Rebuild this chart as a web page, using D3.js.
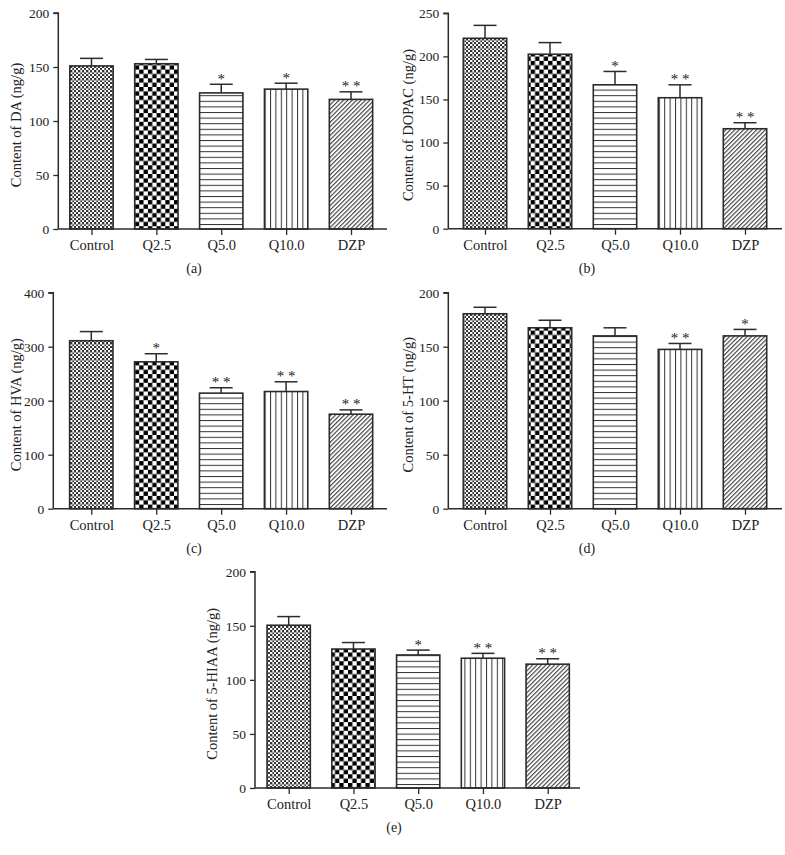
<!DOCTYPE html>
<html><head><meta charset="utf-8">
<script src="https://cdn.jsdelivr.net/npm/d3@7"></script>
<style>
body{margin:0;background:#fff;}
svg{display:block;}
text{font-family:"Liberation Serif","DejaVu Serif",serif;fill:#222;}
</style></head>
<body><svg id="c" width="785" height="855"></svg>
<script>
const categories = ["Control","Q2.5","Q5.0","Q10.0","DZP"];
const patterns = ["fineCheck","bigCheck","hLines","vLines","diag"];

const daMean = [151,153,126,129.5,120];
const daErr  = [158,157,134,135,127];
const daSig  = ["","","*","*","* *"];

const dopacMean = [221,202.5,167,152,116];
const dopacErr  = [236,216,182.5,167,123];
const dopacSig  = ["","","*","* *","* *"];

const hvaMean = [311,272,214,217,175];
const hvaErr  = [328,287,224,235,183];
const hvaSig  = ["","*","* *","* *","* *"];

const htMean = [180.5,167.5,160,147.5,160];
const htErr  = [186.5,174.5,167.5,153,166];
const htSig  = ["","","","* *","*"];

const hiaaMean = [150.5,128.5,123,120,114.5];
const hiaaErr  = [158.5,134.5,127.5,124.5,119.5];
const hiaaSig  = ["","","*","* *","* *"];

const yTicksA = [0,50,100,150,200];
const yTicksB = [0,50,100,150,200,250];
const yTicksC = [0,100,200,300,400];
const yTicksD = [0,50,100,150,200];
const yTicksE = [0,50,100,150,200];

const svg = d3.select("#c");
const defs = svg.append("defs");

// fine checkerboard with grey grid (Control)
{
  const p = defs.append("pattern").attr("id","fineCheck").attr("patternUnits","userSpaceOnUse")
    .attr("width",8).attr("height",8);
  p.append("rect").attr("width",8).attr("height",8).attr("fill","#fff");
  for (let i=0;i<4;i++) for (let j=0;j<4;j++) if ((i+j)%2===0)
    p.append("rect").attr("x",i*2).attr("y",j*2).attr("width",2).attr("height",2).attr("fill","#333");
  p.append("rect").attr("x",0).attr("y",0).attr("width",8).attr("height",0.8).attr("fill","#999");
  p.append("rect").attr("x",0).attr("y",0).attr("width",0.8).attr("height",8).attr("fill","#999");
}
// big checkerboard (Q2.5)
{
  const s = 4.35;
  const p = defs.append("pattern").attr("id","bigCheck").attr("patternUnits","userSpaceOnUse")
    .attr("width",2*s).attr("height",2*s);
  p.append("rect").attr("width",2*s).attr("height",2*s).attr("fill","#fff");
  p.append("rect").attr("x",0).attr("y",0).attr("width",s).attr("height",s).attr("fill","#000");
  p.append("rect").attr("x",s).attr("y",s).attr("width",s).attr("height",s).attr("fill","#000");
}
// horizontal lines (Q5.0)
{
  const p = defs.append("pattern").attr("id","hLines").attr("patternUnits","userSpaceOnUse")
    .attr("width",10).attr("height",5.6);
  p.append("rect").attr("width",10).attr("height",5.6).attr("fill","#fff");
  p.append("line").attr("x1",0).attr("x2",10).attr("y1",0.5).attr("y2",0.5).attr("stroke","#333").attr("stroke-width",1);
}
// vertical lines (Q10.0)
{
  const p = defs.append("pattern").attr("id","vLines").attr("patternUnits","userSpaceOnUse")
    .attr("width",5.4).attr("height",10);
  p.append("rect").attr("width",5.4).attr("height",10).attr("fill","#fff");
  p.append("line").attr("y1",0).attr("y2",10).attr("x1",0.5).attr("x2",0.5).attr("stroke","#333").attr("stroke-width",1);
}
// diagonal lines (DZP)
{
  const p = defs.append("pattern").attr("id","diag").attr("patternUnits","userSpaceOnUse")
    .attr("width",3.1).attr("height",10).attr("patternTransform","rotate(45)");
  p.append("rect").attr("width",3.1).attr("height",10).attr("fill","#fff");
  p.append("line").attr("y1",0).attr("y2",10).attr("x1",0.6).attr("x2",0.6).attr("stroke","#333").attr("stroke-width",1.05);
}

function panel(o) {
  const g = svg.append("g");
  const y = d3.scaleLinear().domain([0, o.max]).range([o.yBottom, o.yTop]);
  const x = d3.scalePoint().domain(categories).range([o.c0, o.c1]);
  const bw = x.step() * 0.668;

  g.selectAll("rect.bar").data(categories).join("rect")
    .attr("x", d => x(d) - bw/2)
    .attr("y", (d,i) => y(o.mean[i]))
    .attr("width", bw)
    .attr("height", (d,i) => y(0) - y(o.mean[i]))
    .attr("fill", (d,i) => `url(#${patterns[i]})`)
    .attr("stroke", "#2b2b2b").attr("stroke-width", 1.6);

  const eb = g.selectAll("g.eb").data(categories).join("g");
  eb.append("line")
    .attr("x1", d => x(d)).attr("x2", d => x(d))
    .attr("y1", (d,i) => y(o.mean[i])).attr("y2", (d,i) => y(o.err[i]))
    .attr("stroke", "#2b2b2b").attr("stroke-width", 1.5);
  eb.append("line")
    .attr("x1", d => x(d) - 11.5).attr("x2", d => x(d) + 11.5)
    .attr("y1", (d,i) => y(o.err[i])).attr("y2", (d,i) => y(o.err[i]))
    .attr("stroke", "#2b2b2b").attr("stroke-width", 1.5);

  g.selectAll("text.sig").data(categories).join("text")
    .attr("x", d => x(d)).attr("y", (d,i) => y(o.err[i]) - 0.5)
    .attr("text-anchor", "middle").attr("font-size", 15).attr("fill", "#333")
    .text((d,i) => o.sig[i]);

  const ya = g.append("g").attr("transform", `translate(${o.axisX},0)`)
    .call(d3.axisLeft(y).tickValues(o.ticks).tickSize(5).tickPadding(4).tickFormat(d3.format("d")));
  ya.select(".domain").attr("stroke", "#2b2b2b").attr("stroke-width", 1.5)
    .attr("d", `M-5,${y(o.max)}H0V${y(0)}`);
  ya.selectAll(".tick line").attr("stroke", "#2b2b2b").attr("stroke-width", 1.3);
  ya.selectAll(".tick text").attr("font-size", 13.5).attr("font-family", "Liberation Serif").attr("fill", "#222");

  const xa = g.append("g").attr("transform", `translate(0,${o.yBottom})`)
    .call(d3.axisBottom(x).tickSize(6).tickPadding(5));
  xa.select(".domain").attr("stroke", "#2b2b2b").attr("stroke-width", 1.5)
    .attr("d", `M${o.axisX},0H${o.axisEnd}`);
  xa.selectAll(".tick line").attr("stroke", "#2b2b2b").attr("stroke-width", 1.3);
  xa.selectAll(".tick text").attr("font-size", 14.5).attr("font-family", "Liberation Serif").attr("fill", "#222");

  g.append("text")
    .attr("transform", `translate(${o.titleX},${(o.yTop + o.yBottom)/2 + 4}) rotate(-90)`)
    .attr("text-anchor", "middle").attr("dominant-baseline", "central")
    .attr("font-size", 14.5).text(o.title);

  g.append("text").attr("x", o.capX).attr("y", o.capY)
    .attr("text-anchor", "middle").attr("font-size", 14).text(o.cap);
}

panel({mean: daMean, err: daErr, sig: daSig, ticks: yTicksA, max: 200,
  axisX: 58.3, axisEnd: 387, yBottom: 229, yTop: 13, c0: 91.5, c1: 351,
  titleX: 15.5, title: "Content of DA (ng/g)", cap: "(a)", capX: 194, capY: 273});
panel({mean: dopacMean, err: dopacErr, sig: dopacSig, ticks: yTicksB, max: 250,
  axisX: 448.3, axisEnd: 782, yBottom: 228.7, yTop: 13.3, c0: 485, c1: 745,
  titleX: 408, title: "Content of DOPAC (ng/g)", cap: "(b)", capX: 587, capY: 273});
panel({mean: hvaMean, err: hvaErr, sig: hvaSig, ticks: yTicksC, max: 400,
  axisX: 53.3, axisEnd: 387, yBottom: 508.7, yTop: 292.7, c0: 91.3, c1: 351,
  titleX: 15.5, title: "Content of HVA (ng/g)", cap: "(c)", capX: 194, capY: 553});
panel({mean: htMean, err: htErr, sig: htSig, ticks: yTicksD, max: 200,
  axisX: 448.3, axisEnd: 782, yBottom: 508.7, yTop: 292.7, c0: 485, c1: 745,
  titleX: 408, title: "Content of 5-HT (ng/g)", cap: "(d)", capX: 587, capY: 553});
panel({mean: hiaaMean, err: hiaaErr, sig: hiaaSig, ticks: yTicksE, max: 200,
  axisX: 255, axisEnd: 580, yBottom: 788, yTop: 571.7, c0: 288.7, c1: 547.7,
  titleX: 212, title: "Content of 5-HIAA (ng/g)", cap: "(e)", capX: 394, capY: 832});
</script></body></html>
